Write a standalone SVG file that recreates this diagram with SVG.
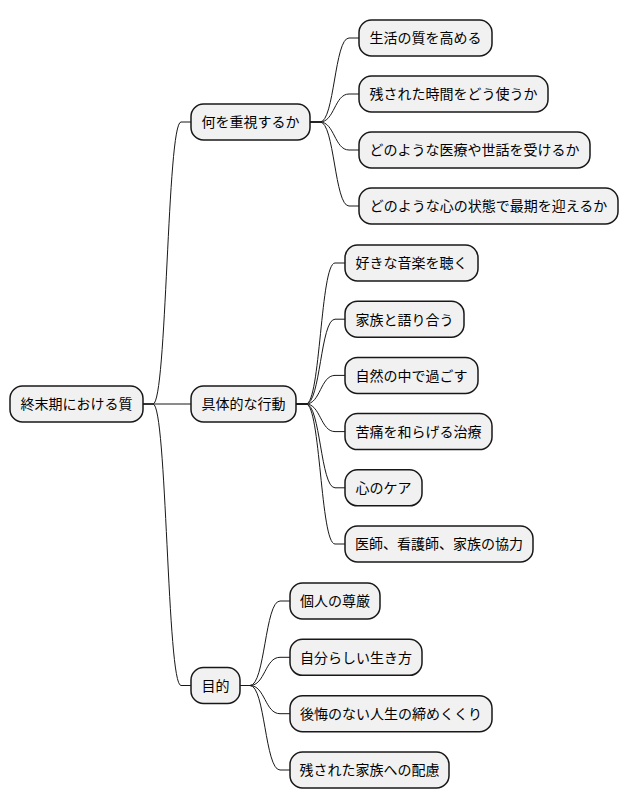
<svg xmlns="http://www.w3.org/2000/svg" width="628" height="809" viewBox="0 0 628 809">
<style>
.n rect{fill:#F1F1F1;stroke:#181818;stroke-width:1.5}
.n text{font-family:"Noto Sans CJK JP","Noto Sans",sans-serif;font-size:14px;fill:#000;text-anchor:middle}
#edges path{fill:none;stroke:#181818;stroke-width:1}
</style>
<rect width="628" height="809" fill="#FFFFFF"/>
<g id="edges">
<path d="M143,404 H153 C167,404 167,122 181,122 H191"/>
<path d="M143,404 H191"/>
<path d="M143,404 H153 C167,404 167,685.5 181,685.5 H191"/>
<path d="M310,122 H320 C334.5,122 334.5,38 349,38 H359"/>
<path d="M310,122 H320 C334.5,122 334.5,94 349,94 H359"/>
<path d="M310,122 H320 C334.5,122 334.5,150 349,150 H359"/>
<path d="M310,122 H320 C334.5,122 334.5,206 349,206 H359"/>
<path d="M296,404 H306 C320.5,404 320.5,263 335,263 H345"/>
<path d="M296,404 H306 C320.5,404 320.5,319.2 335,319.2 H345"/>
<path d="M296,404 H306 C320.5,404 320.5,375.4 335,375.4 H345"/>
<path d="M296,404 H306 C320.5,404 320.5,431.6 335,431.6 H345"/>
<path d="M296,404 H306 C320.5,404 320.5,487.8 335,487.8 H345"/>
<path d="M296,404 H306 C320.5,404 320.5,544 335,544 H345"/>
<path d="M240,685.5 H250 C265,685.5 265,601 280,601 H290"/>
<path d="M240,685.5 H250 C265,685.5 265,657.3 280,657.3 H290"/>
<path d="M240,685.5 H250 C265,685.5 265,713.7 280,713.7 H290"/>
<path d="M240,685.5 H250 C265,685.5 265,770 280,770 H290"/>
</g>
<g id="root" class="n"><rect x="10" y="386" width="133" height="36" rx="12.5"/><text x="76.5" y="409.3">終末期における質</text></g>
<g id="n1" class="n"><rect x="191" y="104" width="119" height="36" rx="12.5"/><text x="250.5" y="127.3">何を重視するか</text></g>
<g id="n2" class="n"><rect x="191" y="386" width="105" height="36" rx="12.5"/><text x="243.5" y="409.3">具体的な行動</text></g>
<g id="n3" class="n"><rect x="191" y="667.5" width="49" height="36" rx="12.5"/><text x="215.5" y="690.8">目的</text></g>
<g id="n1a" class="n"><rect x="359" y="20" width="133" height="36" rx="12.5"/><text x="425.5" y="43.3">生活の質を高める</text></g>
<g id="n1b" class="n"><rect x="359" y="76" width="189" height="36" rx="12.5"/><text x="453.5" y="99.3">残された時間をどう使うか</text></g>
<g id="n1c" class="n"><rect x="359" y="132" width="231" height="36" rx="12.5"/><text x="474.5" y="155.3">どのような医療や世話を受けるか</text></g>
<g id="n1d" class="n"><rect x="359" y="188" width="259" height="36" rx="12.5"/><text x="488.5" y="211.3">どのような心の状態で最期を迎えるか</text></g>
<g id="n2a" class="n"><rect x="345" y="245" width="133" height="36" rx="12.5"/><text x="411.5" y="268.3">好きな音楽を聴く</text></g>
<g id="n2b" class="n"><rect x="345" y="301.2" width="119" height="36" rx="12.5"/><text x="404.5" y="324.5">家族と語り合う</text></g>
<g id="n2c" class="n"><rect x="345" y="357.4" width="133" height="36" rx="12.5"/><text x="411.5" y="380.7">自然の中で過ごす</text></g>
<g id="n2d" class="n"><rect x="345" y="413.6" width="147" height="36" rx="12.5"/><text x="418.5" y="436.9">苦痛を和らげる治療</text></g>
<g id="n2e" class="n"><rect x="345" y="469.8" width="77" height="36" rx="12.5"/><text x="383.5" y="493.1">心のケア</text></g>
<g id="n2f" class="n"><rect x="345" y="526" width="188" height="36" rx="12.5"/><text x="439" y="549.3">医師、看護師、家族の協力</text></g>
<g id="n3a" class="n"><rect x="290" y="583" width="90" height="36" rx="12.5"/><text x="335" y="606.3">個人の尊厳</text></g>
<g id="n3b" class="n"><rect x="290" y="639.3" width="132" height="36" rx="12.5"/><text x="356" y="662.6">自分らしい生き方</text></g>
<g id="n3c" class="n"><rect x="290" y="695.7" width="202" height="36" rx="12.5"/><text x="391" y="719">後悔のない人生の締めくくり</text></g>
<g id="n3d" class="n"><rect x="290" y="752" width="159" height="36" rx="12.5"/><text x="369.5" y="775.3">残された家族への配慮</text></g>
</svg>
